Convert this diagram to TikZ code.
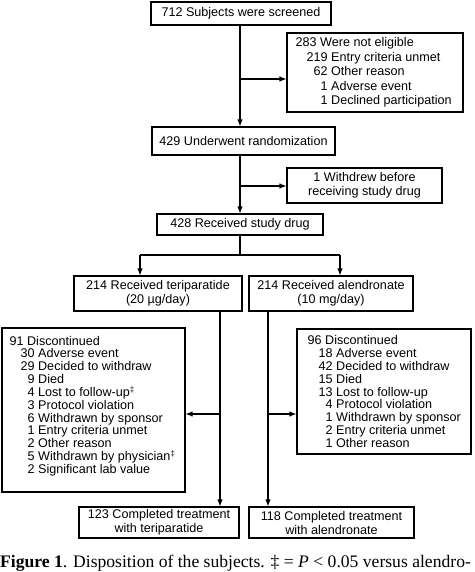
\documentclass[tikz,border=0pt]{standalone}
\usepackage{fontspec}
\setmainfont{Liberation Sans}
\newfontfamily\capfont{Liberation Serif}
\usetikzlibrary{arrows.meta,calc}
\begin{document}
\begin{tikzpicture}[x=1pt,y=-1pt,
  box/.style={draw, line width=1.1pt, inner ysep=0pt, inner xsep=0pt, align=center,
     font=\fontsize{12.6}{14}\selectfont},
  frame/.style={draw, line width=1.1pt, inner sep=0pt},
  ltext/.style={anchor=west, inner sep=0pt, align=left,
     font=\fontsize{12.6}{12.85}\selectfont},
  conn/.style={line width=1.1pt},
  arr/.style={line width=1.1pt, -{Latex[length=7pt,width=5.5pt]}}]
\useasboundingbox (0,0) rectangle (474,572);
\newcommand{\ind}{\hspace*{11pt}}
\newcommand{\dg}{\phantom{0}}
% nodes
\node[box, minimum width=180pt, minimum height=23pt] (b1) at (241,13.5) {712 Subjects were screened};
\node[frame, minimum width=176pt, minimum height=79pt] (b2) at (375,72.5) {};
\node[ltext, font=\fontsize{12.6}{14.5}\selectfont] (b2t) at ([xshift=9pt]b2.west)
  {283 Were not eligible\\
   \ind 219 Entry criteria unmet\\
   \ind\dg 62 Other reason\\
   \ind\dg\dg 1 Adverse event\\
   \ind\dg\dg 1 Declined participation};
\node[box, minimum width=183pt, minimum height=28pt] (b3) at (243.5,141) {429 Underwent randomization};
\node[box, minimum width=155pt, minimum height=35pt] (b4) at (364.5,185.5) {1 Withdrew before\\receiving study drug};
\node[box, minimum width=166pt, minimum height=21pt] (b5) at (240,224.5) {428 Received study drug};
\node[box, minimum width=168pt, minimum height=35pt] (b6) at (158,293.5) {214 Received teriparatide\\(20 µg/day)};
\node[box, minimum width=164pt, minimum height=35pt] (b7) at (331,293.5) {214 Received alendronate\\(10 mg/day)};
\node[frame, minimum width=183pt, minimum height=164pt] (b8) at (93.5,410) {};
\node[ltext] (b8t) at ([xshift=8pt,yshift=4pt]b8.west)
  {91 Discontinued\\
   \ind 30 Adverse event\\
   \ind 29 Decided to withdraw\\
   \ind\dg 9 Died\\
   \ind\dg 4 Lost to follow-up\textsuperscript{\footnotesize ‡}\\
   \ind\dg 3 Protocol violation\\
   \ind\dg 6 Withdrawn by sponsor\\
   \ind\dg 1 Entry criteria unmet\\
   \ind\dg 2 Other reason\\
   \ind\dg 5 Withdrawn by physician\textsuperscript{\footnotesize ‡}\\
   \ind\dg 2 Significant lab value};
\node[frame, minimum width=174pt, minimum height=125pt] (b9) at (384,391.5) {};
\node[ltext] (b9t) at ([xshift=11pt]b9.west)
  {96 Discontinued\\
   \ind 18 Adverse event\\
   \ind 42 Decided to withdraw\\
   \ind 15 Died\\
   \ind 13 Lost to follow-up\\
   \ind\dg 4 Protocol violation\\
   \ind\dg 1 Withdrawn by sponsor\\
   \ind\dg 2 Entry criteria unmet\\
   \ind\dg 1 Other reason};
\node[box, minimum width=160pt, minimum height=31pt] (b10) at (159,522.5) {123 Completed treatment\\with teriparatide};
\node[box, minimum width=165pt, minimum height=31pt] (b11) at (331.5,522.5) {118 Completed treatment\\with alendronate};
\node[anchor=base west, inner sep=0pt, font=\capfont\fontsize{17.6}{20}\selectfont] (cap) at (0,567.5)
  {\textbf{Figure 1}. Disposition of the subjects. ‡ = \textit{P} < 0.05 versus alendro-};
% junction coordinates
\coordinate (s) at (240,0);
\coordinate (j1) at (240,79);
\coordinate (j2) at (240,186);
\coordinate (j3) at (240,255);
\coordinate (jl) at (140,255);
\coordinate (jr) at (340,255);
\coordinate (l) at (220,414);
\coordinate (r) at (268,414);
% connectors
\draw[arr] (b1.south -| s) -- (b3.north -| s);
\draw[arr] (j1) -- (j1 -| b2.west);
\draw[arr] (b3.south -| s) -- (b5.north -| s);
\draw[arr] (j2) -- (j2 -| b4.west);
\draw[conn] (b5.south -| s) -- (j3);
\draw[conn] (jl) -- (jr);
\draw[arr] (jl) -- (b6.north -| jl);
\draw[arr] (jr) -- (b7.north -| jr);
\draw[arr] (b6.south -| l) -- (b10.north -| l);
\draw[arr] (l) -- (b8.east |- l);
\draw[arr] (b7.south -| r) -- (b11.north -| r);
\draw[arr] (r) -- (b9.west |- r);
\end{tikzpicture}
\end{document}
